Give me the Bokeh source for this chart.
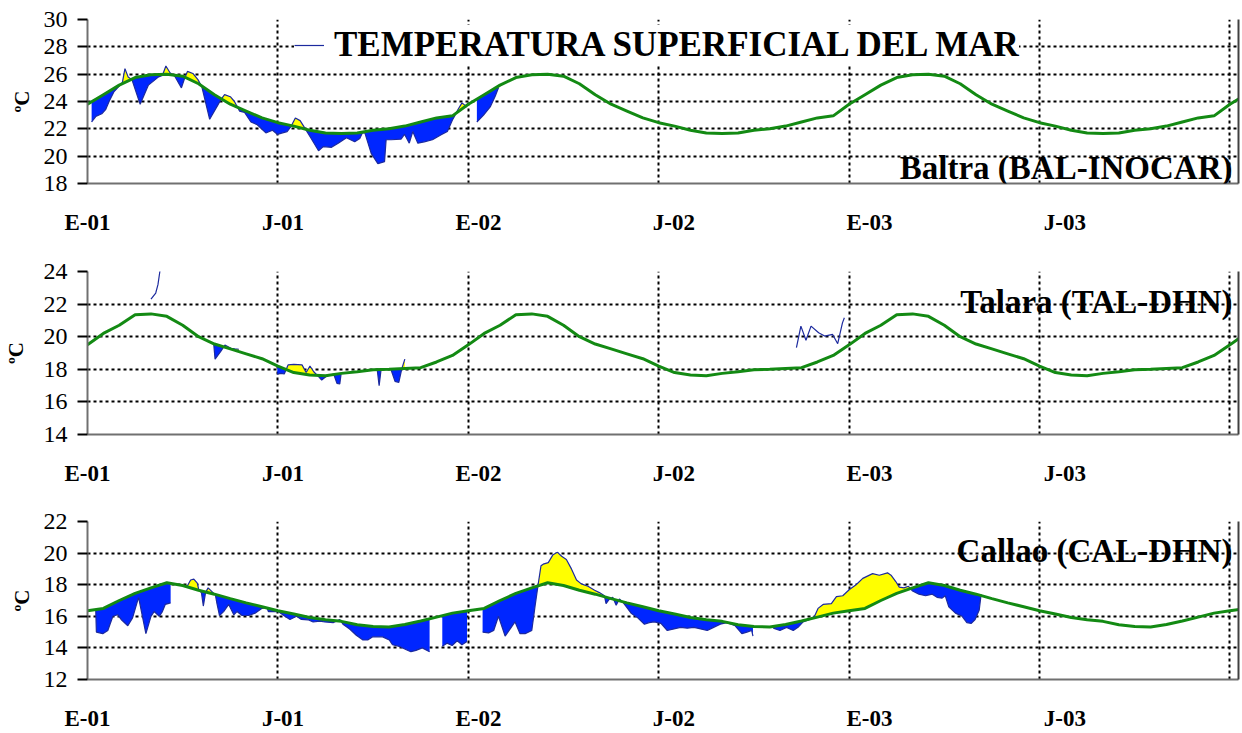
import numpy as np
from bokeh.plotting import figure
from bokeh.layouts import column
from bokeh.models import (FixedTicker, Label, Legend, LegendItem, LinearAxis,
                          Range1d, CustomJSTickFormatter)
from bokeh.embed import file_html
from bokeh.resources import INLINE

NAN = float("nan")

# ---------------- data ----------------
# x unit: months since January 2001
TITLE = "TEMPERATURA SUPERFICIAL DEL MAR"
tick_labels = ["E-01", "J-01", "E-02", "J-02", "E-03", "J-03"]
grid_months = [6, 12, 18, 24, 30, 36]

# climatology: half-monthly values for one year (repeats every year)
CLIM_STEP = 0.5
baltra_clim = [23.8, 24.5, 25.2, 25.75, 25.95, 26.0, 25.85, 25.3, 24.5, 23.8, 23.3, 22.8,
               22.45, 22.2, 21.9, 21.7, 21.65, 21.7, 21.9, 22.0, 22.2, 22.5, 22.8, 22.95]
talara_clim = [19.5, 20.2, 20.7, 21.35, 21.4, 21.25, 20.7, 20.0, 19.55, 19.25, 18.95, 18.65,
               18.2, 17.8, 17.65, 17.6, 17.75, 17.85, 17.97, 18.0, 18.05, 18.1, 18.45, 18.85]
callao_clim = [16.35, 16.5, 17.0, 17.45, 17.8, 18.12, 17.95, 17.65, 17.4, 17.12, 16.85, 16.6,
               16.35, 16.15, 15.92, 15.78, 15.68, 15.47, 15.35, 15.32, 15.48, 15.7, 15.95, 16.2]

# observed sea surface temperature (NaN = gap)
baltra_sst_m = [0.13, 0.26, 0.45, 0.57, 0.68, 0.83, 0.99, 1.10, 1.18, 1.28, 1.40, 1.66, 1.92,
                2.24, 2.36, 2.47, 2.60, 2.75, 2.96, 3.06, 3.15, 3.32, 3.48, 3.60, 3.85, 4.11,
                4.22, 4.32, 4.50, 4.63, 4.79, 4.95, 5.15, 5.35, 5.62, 5.83, 5.98, 6.29, 6.42,
                6.55, 6.70, 6.81, 7.02, 7.28, 7.43, 7.69, 7.90, 8.16, 8.42, 8.58, 8.66, 8.74,
                8.94, 9.15, 9.36, 9.41, 9.57, 9.88, 9.99, 10.14, 10.25, 10.41, 10.61, 10.87,
                11.13, 11.34, 11.50, 11.57, 11.67, 11.80, 11.96,
                NAN, 12.27, 12.48, 12.69, 12.85, 12.95]
baltra_sst_v = [22.5, 22.9, 23.1, 23.4, 24.0, 24.7, 25.1, 25.4, 26.4, 25.8, 25.6, 23.8, 25.2,
                25.8, 25.9, 26.6, 26.1, 25.85, 25.0, 25.7, 26.2, 26.05, 25.6, 25.1, 22.7, 23.75,
                24.2, 24.5, 24.35, 24.0, 23.3, 23.2, 22.5, 22.3, 21.7, 21.9, 21.6, 21.8, 22.2,
                22.8, 22.6, 22.2, 21.4, 20.4, 20.7, 20.65, 20.95, 21.35, 21.05, 21.3, 21.7, 21.7,
                20.2, 19.45, 19.6, 21.2, 21.2, 21.25, 21.6, 20.95, 21.8, 20.95, 21.05, 21.2,
                21.55, 21.8, 22.65, 22.95, 23.4, 23.9, 23.6,
                NAN, 22.5, 23.0, 23.6, 24.4, 25.0]

talara_sst_m = [3.98, 4.02, 4.21, 4.33, 4.52, 4.64, 4.77,
                NAN, 5.98, 6.10, 6.20, 6.32, 6.50, 6.76, 6.89, 7.01, 7.13, 7.26, 7.38, 7.55,
                7.76, 7.86, 7.95, 7.99,
                NAN, 9.13, 9.19, 9.25,
                NAN, 9.56, 9.69, 9.81, 9.90, 10.00]
talara_sst_v = [19.5, 18.62, 19.13, 19.49, 19.29, 19.25, 19.23,
                NAN, 17.7, 17.75, 17.71, 18.27, 18.3, 18.27, 17.8, 18.2, 17.85, 17.6, 17.34, 17.6,
                17.7, 17.14, 17.1, 17.7,
                NAN, 17.97, 17.0, 17.97,
                NAN, 18.0, 17.26, 17.2, 18.0, 18.62]
# isolated observations drawn as a line only
talara_obs_m = [2.00, 2.15, 2.22, 2.28, 2.32,
                NAN, 22.34, 22.48, 22.64, 22.80, 23.04, 23.23, 23.48, 23.64, 23.79, 23.85]
talara_obs_v = [22.3, 22.68, 23.19, 24.0, 24.5,
                NAN, 19.33, 20.65, 19.78, 20.65, 20.24, 20.04, 20.14, 19.57, 20.85, 21.16]

callao_sst_m = [0.26, 0.28, 0.48, 0.64, 0.80, 0.95, 1.06, 1.27, 1.42, 1.61, 1.84, 2.00, 2.10,
                2.26, 2.36, 2.45, 2.62,
                NAN, 3.14, 3.25, 3.35, 3.46, 3.51, 3.59, 3.65, 3.72, 3.80, 3.93, 4.03, 4.08,
                4.16, 4.29, 4.45, 4.61, 4.71, 4.87, 5.08, 5.28, 5.49, 5.65, 5.70, 6.01, 6.22,
                6.38, 6.59, 6.74, 6.95, 7.11, 7.32, 7.48, 7.74, 7.95, 8.05, 8.26, 8.47, 8.68,
                8.83, 8.99, 9.30, 9.51, 9.61, 9.82, 10.03, 10.19, 10.35, 10.55, 10.78,
                NAN, 11.18, 11.33, 11.49, 11.65, 11.80, 11.96,
                NAN, 12.45, 12.64, 12.80, 12.95, 13.16, 13.32, 13.47, 13.63, 13.79, 14.00,
                14.10, 14.20, 14.29, 14.36, 14.52, 14.67, 14.81, 14.94, 15.09, 15.25, 15.41,
                15.56, 15.77, 15.98, 16.13, 16.29, 16.34, 16.45, 16.55, 16.66, 16.76, 16.87,
                17.13, 17.34, 17.55, 17.70, 17.86, 18.07, 18.27, 18.48, 18.69, 18.90, 19.11,
                19.32, 19.53, 19.73, 19.94, 20.15, 20.41, 20.62, 20.78, 20.93, 20.97,
                NAN, 21.61, 21.82, 22.03, 22.24, 22.39, 22.55, 22.76, 22.91, 23.02, 23.18,
                23.44, 23.60, 23.80, 24.01, 24.22, 24.43, 24.74, 24.95, 25.21, 25.32, 25.47,
                25.58, 25.73, 25.87, 26.00, 26.20, 26.41, 26.62, 26.77, 26.93, 27.03, 27.14,
                27.35, 27.56, 27.71, 27.85, 27.97, 28.10, 28.16]
callao_sst_v = [16.4, 15.0, 14.9, 15.1, 16.0, 16.1, 15.8, 15.4, 15.9, 17.2, 14.9, 16.0, 16.3,
                16.0, 16.3, 16.75, 16.85,
                NAN, 17.9, 18.3, 18.35, 18.1, 17.65, 17.5, 16.65, 17.5, 17.8, 17.55, 17.35, 16.8,
                16.05, 16.3, 16.75, 16.1, 16.3, 16.05, 16.05, 16.2, 16.5, 16.55, 16.3, 16.3, 16.0,
                15.8, 16.0, 15.8, 15.78, 15.64, 15.7, 15.64, 15.6, 15.8, 15.5, 15.2, 14.8, 14.5,
                14.5, 14.7, 14.7, 14.5, 14.2, 14.1, 13.9, 13.76, 13.84, 14.0, 13.76,
                NAN, 14.1, 14.3, 14.15, 14.45, 14.2, 14.4,
                NAN, 15.0, 14.95, 15.1, 16.0, 14.75, 15.2, 15.65, 14.9, 14.9, 15.1,
                16.6, 18.0, 19.2, 19.3, 19.4, 19.9, 20.05, 19.8, 19.6, 19.0, 18.3,
                18.05, 17.9, 17.65, 17.5, 17.3, 16.8, 17.1, 17.2, 16.7, 17.1, 16.9,
                16.2, 15.9, 15.5, 15.6, 15.65, 15.55, 15.1, 15.2, 15.3, 15.25, 15.3,
                15.2, 15.1, 15.3, 15.5, 15.6, 15.4, 14.9, 15.0, 15.1, 14.75,
                NAN, 15.25, 15.1, 15.3, 15.1, 15.3, 15.65, 15.8, 16.0, 16.5, 16.75,
                16.8, 17.25, 17.3, 17.7, 18.0, 18.4, 18.7, 18.6, 18.75, 18.6, 18.2,
                17.85, 17.8, 17.9, 17.6, 17.4, 17.3, 17.4, 17.2, 17.15, 17.3, 16.6,
                16.2, 16.0, 15.6, 15.55, 15.8, 16.4, 17.4]

# ---------------- style ----------------
X_END = 36.27
LABEL_STEP = 6.16
YELLOW = "#ffff00"
BLUE = "#0026ff"
NAVY = "#1c2a9e"
GREEN = "#138a13"
SERIF = "Liberation Serif"


def clim_series(one_year):
    vals = list(one_year) * 3 + list(one_year[:3])
    xs = [i * CLIM_STEP for i in range(len(vals))]
    return np.array(xs), np.array(vals)


def add_fills(p, m, v, cx, cy):
    m = np.asarray(m, float)
    v = np.asarray(v, float)
    idx = np.where(np.isnan(m))[0]
    starts = [0] + list(idx + 1)
    ends = list(idx) + [len(m)]
    for s, e in zip(starts, ends):
        xs, ys = m[s:e], v[s:e]
        if len(xs) < 2:
            continue
        cs = np.interp(xs, cx, cy)
        X, S, C = [xs[0]], [ys[0]], [cs[0]]
        for i in range(1, len(xs)):
            d0 = ys[i - 1] - cs[i - 1]
            d1 = ys[i] - cs[i]
            if d0 * d1 < 0:
                t = d0 / (d0 - d1)
                xc = xs[i - 1] + t * (xs[i] - xs[i - 1])
                yc = ys[i - 1] + t * (ys[i] - ys[i - 1])
                X.append(xc); S.append(yc); C.append(yc)
            X.append(xs[i]); S.append(ys[i]); C.append(cs[i])
        X, S, C = np.array(X), np.array(S), np.array(C)
        p.varea(x=X, y1=C, y2=np.maximum(S, C), fill_color=YELLOW)
        p.varea(x=X, y1=np.minimum(S, C), y2=C, fill_color=BLUE)


def make_panel(height, top, bottom, left, ylo, yhi, clim, sst_m, sst_v, station, label_y,
               label_standoff, obs_m=None, obs_v=None):
    p = figure(width=1242, height=height, output_backend="svg", toolbar_location=None,
               x_range=Range1d(0, X_END), y_range=Range1d(ylo, yhi),
               min_border_left=left, min_border_right=4, min_border_top=top,
               min_border_bottom=bottom, background_fill_color="white",
               border_fill_color="white")
    p.outline_line_color = None

    cx, cy = clim_series(clim)
    add_fills(p, sst_m, sst_v, cx, cy)
    r_sst = p.line(sst_m, sst_v, line_color=NAVY, line_width=1.2)
    if obs_m is not None:
        p.line(obs_m, obs_v, line_color=NAVY, line_width=1.2)
    p.line(cx, cy, line_color=GREEN, line_width=3)

    # grids
    p.xgrid.ticker = FixedTicker(ticks=grid_months)
    for g in (p.xgrid, p.ygrid):
        g.grid_line_color = "black"
        g.grid_line_dash = "3 3"
        g.grid_line_width = 2

    # y axis
    ya = p.yaxis[0]
    ya.ticker = FixedTicker(ticks=list(range(ylo, yhi + 1, 2)))
    ya.axis_line_color = "#707070"
    ya.axis_line_width = 2
    ya.major_tick_out = 10
    ya.major_tick_in = 0
    ya.major_tick_line_color = "black"
    ya.major_tick_line_width = 2
    ya.minor_tick_line_color = None
    ya.major_label_standoff = 10
    ya.major_label_text_font = SERIF
    ya.major_label_text_font_size = "24px"
    ya.major_label_text_color = "black"
    ya.axis_label = "ºC"
    ya.axis_label_text_font = SERIF
    ya.axis_label_text_font_style = "bold"
    ya.axis_label_text_font_size = "21px"
    ya.axis_label_text_color = "black"
    ya.axis_label_standoff = label_standoff

    # x axis
    xa = p.xaxis[0]
    xa.ticker = FixedTicker(ticks=[round(k * LABEL_STEP, 2) for k in range(len(tick_labels))])
    xa.formatter = CustomJSTickFormatter(args=dict(labels=tick_labels),
                                         code="return labels[index];")
    xa.axis_line_color = "#707070"
    xa.axis_line_width = 2
    xa.major_tick_out = 0
    xa.major_tick_in = 0
    xa.major_tick_line_color = None
    xa.minor_tick_line_color = None
    xa.major_label_standoff = 26
    xa.major_label_text_font = SERIF
    xa.major_label_text_font_style = "bold"
    xa.major_label_text_font_size = "23px"
    xa.major_label_text_color = "black"

    # right border
    rb = LinearAxis(ticker=FixedTicker(ticks=[]), axis_line_color="#404040",
                    axis_line_width=2, major_tick_line_color=None,
                    minor_tick_line_color=None, major_label_text_font_size="0px")
    p.add_layout(rb, "right")

    p.add_layout(Label(x=X_END, y=label_y, x_offset=-6, text=station,
                       text_align="right", text_baseline="middle",
                       text_font=SERIF, text_font_style="bold",
                       text_font_size="33px", text_color="black"))
    return p, r_sst


p1, r1 = make_panel(245, 19, 62, 80, 18, 30, baltra_clim, baltra_sst_m, baltra_sst_v,
                    "Baltra (BAL-INOCAR)", 19.15, 7)
p2, _ = make_panel(244, 26, 55, 86, 14, 24, talara_clim, talara_sst_m, talara_sst_v,
                   "Talara (TAL-DHN)", 22.1, 13, talara_obs_m, talara_obs_v)
p3, _ = make_panel(244, 32, 48, 80, 12, 22, callao_clim, callao_sst_m, callao_sst_v,
                   "Callao (CAL-DHN)", 20.15, 7)

legend = Legend(items=[LegendItem(label=TITLE, renderers=[r1])],
                location=(207, 118), glyph_width=30, glyph_height=20,
                label_standoff=10, padding=3, margin=0, spacing=0,
                label_text_font=SERIF, label_text_font_style="bold",
                label_text_font_size="35px", label_text_color="black",
                border_line_color=None, background_fill_color="white",
                background_fill_alpha=1.0)
p1.add_layout(legend)

layout = column(p1, p2, p3, spacing=0)
open("out.html", "w").write(file_html(layout, INLINE))
